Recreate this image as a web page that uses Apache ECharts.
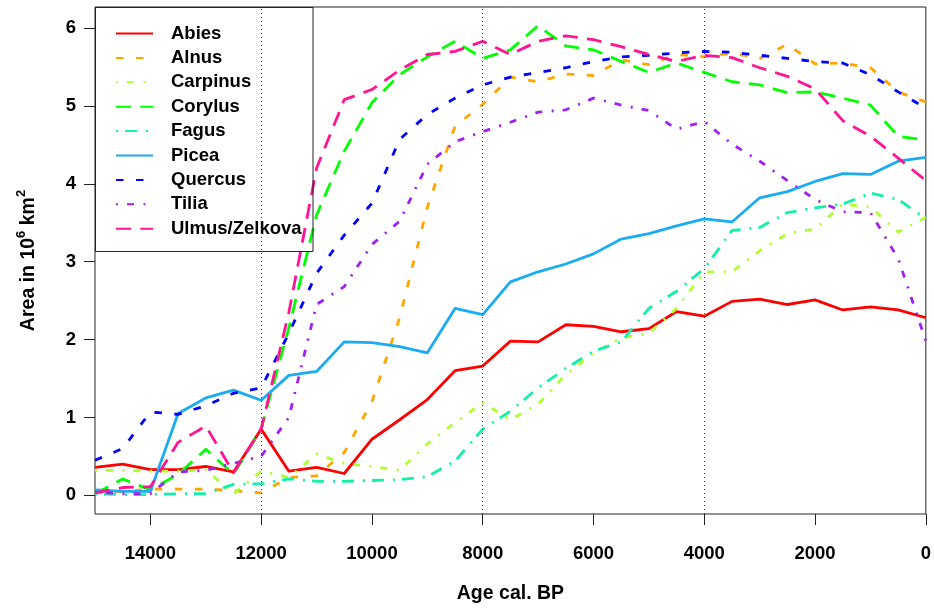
<!DOCTYPE html>
<html>
<head>
<meta charset="utf-8">
<script src="https://cdn.jsdelivr.net/npm/echarts@6/dist/echarts.min.js"></script>
<style>
html,body{margin:0;padding:0;background:#fff;}
#chart{width:934px;height:609px;}
</style>
</head>
<body>
<div id="chart"></div>
<script>
const ages = [15000,14500,14000,13500,13000,12500,12000,11500,11000,10500,10000,9500,9000,8500,8000,7500,7000,6500,6000,5500,5000,4500,4000,3500,3000,2500,2000,1500,1000,500,0];
const xTicks = [14000,12000,10000,8000,6000,4000,2000,0];
const yTicks = [0,1,2,3,4,5,6];
const refLines = [12000,8000,4000];

const abies    = [0.36,0.40,0.33,0.33,0.37,0.30,0.85,0.31,0.36,0.28,0.72,0.97,1.23,1.60,1.66,1.98,1.97,2.19,2.17,2.10,2.14,2.36,2.30,2.49,2.52,2.45,2.51,2.38,2.42,2.38,2.28];
const alnus    = [0.03,0.05,0.08,0.08,0.08,0.06,0.03,0.23,0.25,0.55,1.20,2.28,3.70,4.74,5.02,5.37,5.31,5.41,5.39,5.59,5.53,5.66,5.63,5.68,5.61,5.79,5.54,5.55,5.49,5.18,5.05];
const carpinus = [0.32,0.32,0.31,0.31,0.33,0.02,0.31,0.23,0.53,0.41,0.37,0.32,0.66,0.93,1.19,0.97,1.17,1.55,1.83,2.02,2.08,2.40,2.87,2.87,3.14,3.36,3.42,3.74,3.70,3.38,3.57];
const corylus  = [0.02,0.21,0.07,0.27,0.59,0.27,0.85,2.15,3.60,4.42,5.04,5.40,5.63,5.83,5.61,5.72,6.03,5.77,5.72,5.57,5.43,5.55,5.43,5.31,5.27,5.17,5.18,5.10,5.01,4.61,4.56];
const fagus    = [0.02,0.01,0.01,0.02,0.02,0.14,0.15,0.21,0.18,0.18,0.19,0.20,0.24,0.44,0.85,1.08,1.38,1.63,1.85,1.97,2.40,2.62,2.91,3.40,3.44,3.63,3.69,3.74,3.88,3.80,3.55];
const picea    = [0.07,0.05,0.05,1.05,1.25,1.35,1.22,1.54,1.59,1.97,1.96,1.91,1.83,2.40,2.32,2.74,2.87,2.97,3.10,3.29,3.36,3.46,3.55,3.51,3.82,3.90,4.03,4.13,4.12,4.29,4.34];
const quercus  = [0.45,0.60,1.07,1.04,1.15,1.31,1.38,2.08,2.85,3.34,3.75,4.57,4.89,5.10,5.27,5.37,5.43,5.49,5.57,5.63,5.65,5.68,5.70,5.69,5.65,5.61,5.57,5.55,5.40,5.18,4.97];
const tilia    = [0.04,0.02,0.02,0.30,0.32,0.41,0.50,1.00,2.45,2.68,3.22,3.52,4.25,4.54,4.67,4.79,4.92,4.95,5.10,5.01,4.94,4.70,4.80,4.51,4.29,4.04,3.80,3.64,3.63,3.04,1.98];
const ulmus    = [0.03,0.10,0.11,0.68,0.89,0.29,0.85,2.35,4.20,5.08,5.21,5.46,5.66,5.70,5.83,5.66,5.83,5.90,5.85,5.76,5.66,5.57,5.65,5.62,5.49,5.38,5.22,4.81,4.61,4.33,4.04];

const seriesDefs = [
  {name:'Abies', data:abies, color:'#FF0000', dash:'solid'},
  {name:'Alnus', data:alnus, color:'#FFA500', dash:[7.5,12.5]},
  {name:'Carpinus', data:carpinus, color:'#ADFF2F', dash:[2,9,7,9.5]},
  {name:'Corylus', data:corylus, color:'#00FF00', dash:[15,9.3]},
  {name:'Fagus', data:fagus, color:'#14F0AA', dash:[2,7,12,9]},
  {name:'Picea', data:picea, color:'#1AACF2', dash:'solid'},
  {name:'Quercus', data:quercus, color:'#0000FF', dash:[7.5,12.5]},
  {name:'Tilia', data:tilia, color:'#A020F0', dash:[2,9,7,9.5]},
  {name:'Ulmus/Zelkova', data:ulmus, color:'#FF1493', dash:[15,9.3]}
];

const FONT = 'Liberation Sans, Arial, sans-serif';
const chart = echarts.init(document.getElementById('chart'), null, {renderer:'canvas'});

const series = seriesDefs.map((s, i) => ({
  name: s.name,
  type: 'line',
  data: ages.map((a, j) => [a, s.data[j]]),
  symbol: 'none',
  showSymbol: false,
  smooth: false,
  animation: false,
  color: s.color,
  lineStyle: {color: s.color, width: 2.8, type: s.dash, cap: 'butt', join: 'round'},
  z: 3,
  markLine: i === 0 ? {
    silent: true,
    symbol: ['none','none'],
    label: {show:false},
    animation: false,
    lineStyle: {color:'#444', width:1, type:[1,3]},
    data: refLines.map(v => ({xAxis: v}))
  } : undefined
}));

chart.setOption({
  animation: false,
  backgroundColor: '#fff',
  textStyle: {fontFamily: FONT},
  grid: {left:95, right:7, top:7, bottom:92, show:true, borderColor:'#222', borderWidth:1, backgroundColor:'transparent', containLabel:false},
  xAxis: {
    type:'value', inverse:true, min:0, max:15000, interval:2000,
    name:'Age cal. BP', nameLocation:'middle', nameGap:70,
    nameTextStyle:{fontSize:19.5, fontWeight:'bold', color:'#000', fontFamily:FONT},
    axisLine:{show:false, onZero:false},
    axisTick:{show:true, length:11, customValues:xTicks, lineStyle:{color:'#222', width:1}},
    axisLabel:{show:true, customValues:xTicks, margin:30, fontSize:18.5, fontWeight:'bold', color:'#000', fontFamily:FONT, formatter: v => String(v)},
    splitLine:{show:false}
  },
  yAxis: {
    type:'value', min:-0.24, max:6.27,
    name:'{a|Area in 10}{b|6}{a| km}{b|2}', nameLocation:'middle', nameGap:56, nameRotate:90,
    nameTextStyle:{
      rich:{
        a:{fontSize:19.5, fontWeight:'bold', color:'#000', fontFamily:FONT, lineHeight:24, verticalAlign:'bottom'},
        b:{fontSize:13, fontWeight:'bold', color:'#000', fontFamily:FONT, lineHeight:24, verticalAlign:'top'}
      }
    },
    axisLine:{show:false, onZero:false},
    axisTick:{show:true, length:11, customValues:yTicks, lineStyle:{color:'#222', width:1}},
    axisLabel:{show:true, customValues:yTicks, margin:19, fontSize:18.5, fontWeight:'bold', color:'#000', fontFamily:FONT},
    splitLine:{show:false}
  },
  legend: {
    show:true, orient:'vertical', left:115, top:24, padding:0,
    itemWidth:37, itemHeight:14, itemGap:5.4,
    data: seriesDefs.map(s => s.name),
    itemStyle:{opacity:0},
    textStyle:{fontSize:18.5, fontWeight:'bold', color:'#000', fontFamily:FONT, padding:[0,0,0,13]},
    selectedMode:false
  },
  graphic: [{
    type:'rect', z:100, silent:true,
    shape:{x:95.5, y:7.5, width:217.5, height:244},
    style:{fill:'none', stroke:'#222', lineWidth:1}
  }],
  series: series
});
</script>
</body>
</html>
